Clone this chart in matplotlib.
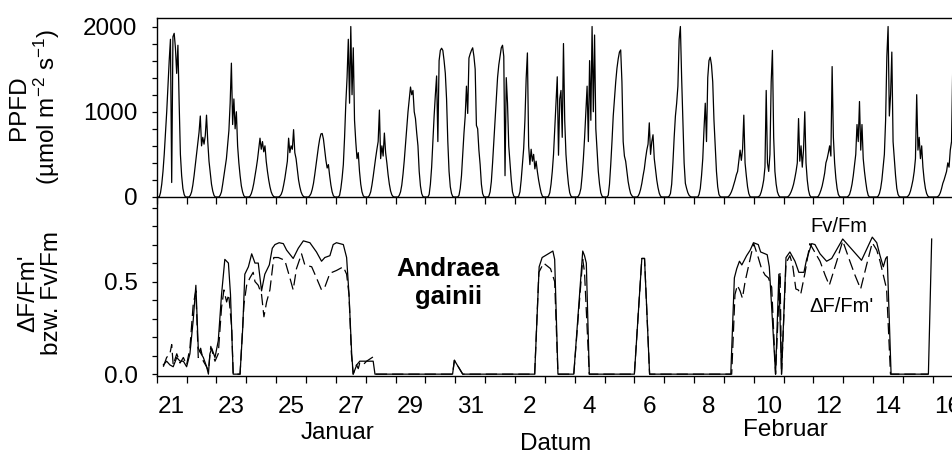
import matplotlib
matplotlib.use("Agg")
import matplotlib.pyplot as plt
from matplotlib.ticker import MultipleLocator
import numpy as np

plt.rcParams['font.family'] = ['Liberation Sans', 'DejaVu Sans']
plt.rcParams['mathtext.fontset'] = 'custom'
plt.rcParams['mathtext.rm'] = 'Liberation Sans'
plt.rcParams['mathtext.default'] = 'regular'

FS = 17.5

# PPFD (umol m-2 s-1), hourly values (0-23 h), one row per day starting 21 Jan
ppfd_days = [
    [0, 0, 0, 50, 150, 300, 500, 750, 1000, 1300, 1600, 1850, 170, 1880, 1920, 1750, 1450, 1780, 1100, 500, 250, 100, 30, 0],
    [0, 0, 0, 20, 60, 140, 250, 380, 520, 650, 760, 950, 600, 700, 620, 720, 960, 650, 420, 280, 150, 70, 20, 0],
    [0, 0, 0, 20, 60, 150, 250, 350, 450, 620, 780, 1100, 1570, 850, 1150, 800, 1000, 600, 400, 250, 130, 60, 15, 0],
    [0, 0, 0, 10, 40, 90, 160, 250, 340, 440, 560, 690, 560, 650, 530, 600, 420, 300, 200, 120, 60, 25, 5, 0],
    [0, 0, 0, 10, 30, 70, 140, 220, 320, 420, 690, 520, 600, 560, 790, 520, 450, 320, 200, 120, 60, 25, 5, 0],
    [0, 0, 0, 15, 40, 90, 160, 260, 370, 480, 590, 680, 740, 745, 680, 560, 430, 340, 380, 250, 140, 60, 15, 0],
    [0, 0, 0, 20, 100, 220, 380, 700, 1100, 1400, 1850, 1100, 2000, 1200, 1750, 900, 650, 450, 520, 300, 150, 60, 15, 0],
    [0, 0, 0, 20, 60, 140, 240, 350, 460, 560, 650, 1020, 450, 600, 480, 750, 520, 400, 260, 150, 70, 25, 5, 0],
    [0, 0, 0, 20, 60, 140, 270, 430, 620, 820, 1000, 1150, 1290, 1200, 1250, 1000, 920, 750, 600, 300, 130, 40, 5, 0],
    [0, 0, 0, 30, 150, 350, 650, 950, 1200, 1420, 650, 1600, 1720, 1745, 1720, 1600, 1450, 1150, 650, 300, 120, 40, 5, 0],
    [0, 0, 0, 20, 100, 250, 500, 750, 950, 1300, 980, 1630, 1680, 1720, 1750, 1650, 1500, 840, 800, 550, 380, 150, 40, 5],
    [0, 0, 0, 10, 60, 180, 400, 650, 900, 1150, 1400, 1550, 1650, 1750, 1780, 1650, 250, 1400, 1100, 600, 400, 200, 60, 10],
    [0, 0, 0, 10, 60, 200, 380, 570, 900, 1390, 1690, 600, 380, 560, 420, 500, 330, 420, 300, 200, 120, 50, 10, 0],
    [0, 0, 0, 10, 50, 150, 300, 500, 800, 1100, 1410, 490, 1150, 1250, 700, 1800, 900, 500, 300, 150, 50, 10, 0, 0],
    [0, 0, 0, 10, 40, 100, 250, 450, 700, 1000, 1300, 650, 1600, 900, 2000, 1000, 1900, 800, 550, 300, 150, 50, 10, 0],
    [0, 0, 0, 20, 150, 380, 650, 950, 1150, 1350, 1510, 1620, 1700, 1725, 1350, 650, 480, 420, 300, 180, 100, 40, 15, 0],
    [0, 0, 0, 10, 40, 90, 160, 250, 330, 450, 550, 620, 870, 500, 650, 730, 450, 330, 200, 110, 45, 10, 0, 0],
    [0, 0, 0, 0, 10, 40, 150, 400, 700, 950, 1100, 1300, 1850, 2000, 1400, 900, 400, 160, 100, 50, 20, 5, 0, 0],
    [0, 0, 0, 0, 30, 100, 250, 450, 800, 1100, 650, 1400, 1600, 1640, 1550, 1350, 900, 600, 300, 120, 30, 5, 0, 0],
    [0, 0, 0, 0, 10, 30, 60, 100, 150, 200, 260, 300, 420, 550, 430, 560, 960, 400, 250, 120, 40, 5, 0, 0],
    [0, 0, 0, 0, 5, 20, 60, 120, 200, 350, 1250, 400, 300, 500, 1350, 1720, 700, 300, 150, 60, 20, 0, 0, 0],
    [0, 0, 0, 0, 10, 30, 60, 100, 150, 220, 300, 400, 920, 420, 600, 350, 550, 1000, 400, 200, 80, 20, 0, 0],
    [0, 0, 0, 0, 10, 40, 80, 130, 200, 280, 400, 450, 520, 600, 480, 1530, 700, 400, 220, 100, 30, 5, 0, 0],
    [0, 0, 0, 0, 10, 30, 80, 150, 250, 380, 500, 850, 650, 1120, 550, 850, 450, 300, 180, 80, 20, 0, 0, 0],
    [0, 0, 0, 0, 10, 40, 100, 200, 350, 500, 900, 1650, 2000, 950, 1200, 1700, 650, 450, 250, 100, 30, 5, 0, 0],
    [0, 0, 0, 0, 10, 30, 70, 130, 200, 300, 450, 1200, 550, 700, 450, 600, 350, 200, 100, 40, 10, 0, 0, 0],
    [0, 0, 0, 0, 5, 20, 50, 100, 160, 200, 250, 300, 400, 350, 550, 650, 1550, 1000],
]

# Fv/Fm (solid line), time in days since 21 Jan 00:00
fv_t = [0.22, 0.33, 0.44, 0.55, 0.67, 0.78, 0.89, 1.00, 1.11, 1.22,
        1.31, 1.39, 1.45, 1.56, 1.67, 1.73, 1.78, 1.84, 1.95, 2.06,
        2.17, 2.28, 2.40, 2.47, 2.56, 2.79, 2.88, 2.95, 3.07, 3.18,
        3.29, 3.40, 3.51, 3.62, 3.77, 3.87, 3.96, 4.10, 4.24, 4.35,
        4.57, 4.74, 4.91, 5.13, 5.35, 5.52, 5.63, 5.80, 5.91, 6.02,
        6.25, 6.36, 6.44, 6.53, 6.58, 6.70, 6.80, 7.14, 7.25, 7.31,
        9.91, 9.97, 10.25, 12.66, 12.81, 12.91, 13.27, 13.33, 13.44, 13.97,
        14.27, 14.33, 14.39, 14.49, 16.00, 16.25, 16.34, 16.51, 19.23, 19.35,
        19.43, 19.52, 19.60, 19.76, 19.88, 19.99, 20.15, 20.23, 20.38, 20.45,
        20.52, 20.73, 20.84, 20.93, 21.08, 21.21, 21.38, 21.51, 21.68, 21.77,
        21.94, 22.05, 22.22, 22.44, 22.61, 22.98, 23.61, 23.97, 24.12, 24.23,
        24.34, 24.42, 24.47, 24.60, 25.85, 25.96]
fv = [0.05, 0.07, 0.05, 0.04, 0.09, 0.07, 0.07, 0.04, 0.11, 0.29,
      0.48, 0.14, 0.12, 0.09, 0.04, 0.00, 0.11, 0.14, 0.09, 0.18,
      0.43, 0.62, 0.60, 0.43, 0.00, 0.00, 0.25, 0.54, 0.58, 0.65,
      0.60, 0.60, 0.45, 0.54, 0.59, 0.68, 0.70, 0.71, 0.705, 0.67,
      0.625, 0.68, 0.72, 0.71, 0.66, 0.61, 0.63, 0.64, 0.70, 0.71,
      0.70, 0.63, 0.43, 0.11, 0.00, 0.05, 0.07, 0.07, 0.07, 0.00,
      0.00, 0.075, 0.00, 0.00, 0.58, 0.63, 0.665, 0.62, 0.00, 0.00,
      0.665, 0.64, 0.60, 0.00, 0.00, 0.625, 0.625, 0.00, 0.00, 0.52,
      0.57, 0.61, 0.59, 0.64, 0.67, 0.71, 0.70, 0.66, 0.65, 0.645,
      0.58, 0.00, 0.54, 0.00, 0.63, 0.66, 0.61, 0.55, 0.55, 0.62,
      0.705, 0.70, 0.65, 0.61, 0.625, 0.73, 0.615, 0.74, 0.71, 0.64,
      0.58, 0.625, 0.635, 0.00, 0.00, 0.73]

# dF/Fm' (dashed line)
df_t = [0.22, 0.33, 0.44, 0.50, 0.55, 0.67, 0.78, 0.89, 1.00, 1.11,
        1.22, 1.31, 1.39, 1.47, 1.56, 1.65, 1.73, 1.81, 1.95, 2.06,
        2.17, 2.25, 2.34, 2.41, 2.51, 2.56, 2.79, 2.92, 3.01, 3.12,
        3.23, 3.29, 3.40, 3.51, 3.59, 3.68, 3.79, 3.92, 4.07, 4.29,
        4.46, 4.57, 4.68, 4.85, 4.96, 5.19, 5.35, 5.52, 5.63, 5.80,
        6.02, 6.25, 6.36, 6.44, 6.52, 6.58, 6.69, 6.75, 6.80, 6.91,
        7.03, 7.31, 7.32, 7.34, 9.91, 9.97, 10.25, 12.66, 12.80, 12.96,
        13.19, 13.33, 13.44, 13.97, 14.27, 14.33, 14.49, 16.00, 16.25, 16.34,
        16.51, 19.26, 19.37, 19.45, 19.54, 19.62, 19.71, 19.82, 19.93, 20.00,
        20.15, 20.26, 20.38, 20.49, 20.60, 20.73, 20.88, 20.93, 21.08, 21.21,
        21.30, 21.41, 21.49, 21.57, 21.72, 21.88, 22.22, 22.39, 22.53, 22.78,
        22.98, 23.22, 23.39, 23.58, 23.78, 23.97, 24.12, 24.23, 24.34, 24.45,
        24.58, 25.85]
df = [0.04, 0.09, 0.11, 0.16, 0.05, 0.11, 0.06, 0.09, 0.05, 0.14,
      0.375, 0.45, 0.09, 0.14, 0.07, 0.045, 0.02, 0.15, 0.07, 0.11,
      0.36, 0.455, 0.39, 0.43, 0.25, 0.00, 0.00, 0.375, 0.48, 0.52,
      0.55, 0.50, 0.48, 0.43, 0.31, 0.39, 0.455, 0.63, 0.63, 0.615,
      0.52, 0.455, 0.57, 0.65, 0.59, 0.58, 0.52, 0.455, 0.47, 0.545,
      0.56, 0.58, 0.54, 0.43, 0.11, 0.00, 0.05, 0.03, 0.06, 0.05,
      0.07, 0.10, np.nan, 0.00, 0.00, 0.075, 0.00, 0.00, 0.55, 0.60,
      0.57, 0.50, 0.00, 0.00, 0.62, 0.55, 0.00, 0.00, 0.625, 0.625,
      0.00, 0.00, 0.43, 0.48, 0.45, 0.41, 0.50, 0.58, 0.66, 0.705,
      0.63, 0.57, 0.535, 0.52, 0.47, 0.00, 0.55, 0.00, 0.60, 0.64,
      0.59, 0.46, 0.455, 0.43, 0.55, 0.705, 0.61, 0.535, 0.48, 0.61,
      0.72, 0.61, 0.535, 0.46, 0.59, 0.71, 0.67, 0.61, 0.535, 0.46,
      0.00, 0.00]

day_labels = ['21', '23', '25', '27', '29', '31', '2', '4', '6', '8', '10', '12', '14', '16']
n_days = 27

ppfd_t = np.concatenate([i + np.arange(len(d)) / 24.0 for i, d in enumerate(ppfd_days)])
ppfd = np.concatenate([np.array(d, dtype=float) for d in ppfd_days])

fig = plt.figure(figsize=(9.53, 4.54), dpi=100)
ax1 = fig.add_axes([0.1645, 0.5661, 0.8457, 0.3943])
ax2 = fig.add_axes([0.1645, 0.1718, 0.8457, 0.3943])
for ax in (ax1, ax2):
    ax.patch.set_visible(False)
    for s in ax.spines.values():
        s.set_linewidth(1.0)
    ax.spines['right'].set_visible(False)
    ax.set_xlim(0, n_days)
    ax.set_xticks(np.arange(0, n_days + 1))
    ax.tick_params(axis='x', which='major', direction='out', length=4.7, width=0.9,
                   labelbottom=False)
    ax.tick_params(axis='y', which='both', direction='out', length=3.8, width=0.9,
                   labelsize=FS, pad=10)
ax1.set_zorder(2)

# top: PPFD
ax1.plot(ppfd_t, ppfd, color='black', lw=0.9)
ax1.set_ylim(0, 2100)
ax1.set_yticks([0, 1000, 2000])
ax1.yaxis.set_minor_locator(MultipleLocator(200))

# bottom: fluorescence
ax2.spines['top'].set_visible(False)
ax2.plot(fv_t, fv, color='black', lw=0.9)
ax2.plot(df_t, df, color='black', lw=0.9, linestyle=(0, (9, 4)))
ax2.set_ylim(-0.01, 0.957)
ax2.set_yticks([0.0, 0.5])
ax2.set_yticklabels(['0.0', '0.5'])
ax2.yaxis.set_minor_locator(MultipleLocator(0.1))

ax2.set_xticks(np.arange(len(day_labels)) * 2 + 0.5, minor=True)
ax2.set_xticklabels(day_labels, minor=True)
ax2.tick_params(axis='x', which='minor', length=0, pad=14.5, labelsize=FS)

ax2.text(9.76, 0.493, 'Andraea\ngainii', fontsize=18.5, fontweight='bold',
         ha='center', va='center', linespacing=1.2)
ax2.text(22.85, 0.795, 'Fv/Fm', fontsize=14.5, ha='center', va='center')
ax2.text(22.95, 0.363, "\u0394F/Fm'", fontsize=14.5, ha='center', va='center')

fig.text(35 / 953, 1 - 107.5 / 454, 'PPFD\n(\u00b5mol m$^{-2}$ s$^{-1}$)', rotation=90,
         ha='center', va='center', fontsize=FS, linespacing=1.1)
fig.text(40 / 953, 1 - 293 / 454, "\u0394F/Fm'\nbzw. Fv/Fm", rotation=90,
         ha='center', va='center', fontsize=FS, linespacing=1.1)

fig.text(338 / 953, 1 - 433 / 454, 'Januar', ha='center', va='center', fontsize=FS)
fig.text(785 / 953, 1 - 430 / 454, 'Februar', ha='center', va='center', fontsize=FS)
fig.text(556 / 953, 1 - 444 / 454, 'Datum', ha='center', va='center', fontsize=FS)

fig.savefig('out.png', dpi=100)
